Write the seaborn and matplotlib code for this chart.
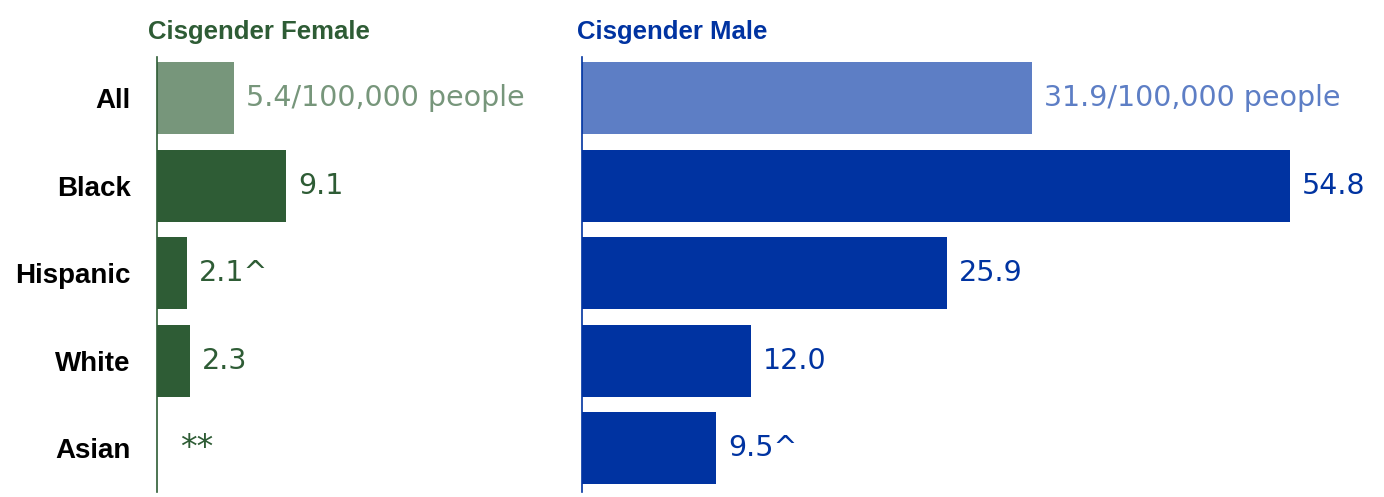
import matplotlib
matplotlib.use("Agg")
import matplotlib.pyplot as plt
import seaborn as sns
import pandas as pd

sns.set_theme(style="white")
plt.rcParams['font.family'] = ['Liberation Sans', 'DejaVu Sans']

# data
groups = ['All', 'Black', 'Hispanic', 'White', 'Asian']
female_rate = [5.4, 9.1, 2.1, 2.3, 0.0]
female_labels = ['5.4/100,000 people', '9.1', '2.1^', '2.3', '**']
male_rate = [31.9, 54.8, 25.9, 12.0, 9.5]
male_labels = ['31.9/100,000 people', '54.8', '25.9', '12.0', '9.5^']

GREEN, GREEN_LT = '#2e5c35', '#77967b'
BLUE, BLUE_LT = '#0033a1', '#5d7ec5'

fig = plt.figure(figsize=(13.84, 4.97), dpi=100)
W, H = 1384, 497
ax_f = fig.add_axes([157 / W, 1 - 492 / H, 380 / W, 435 / H])
ax_m = fig.add_axes([582 / W, 1 - 492 / H, 708 / W, 435 / H])

panels = [
    (ax_f, female_rate, female_labels, GREEN, GREEN_LT, 'Cisgender Female', 380 / 14.2, -0.65),
    (ax_m, male_rate, male_labels, BLUE, BLUE_LT, 'Cisgender Male', 708 / 14.1, -0.35),
]

for ax, vals, labs, dark, light, title, xmax, tx in panels:
    df = pd.DataFrame({'group': groups, 'rate': vals})
    sns.barplot(data=df, y='group', x='rate', hue='group', legend=False,
                palette=[light] + [dark] * 4, width=0.82, ax=ax,
                saturation=1, edgecolor='none')
    ax.set_xlim(0, xmax)
    ax.set_ylim(4.5, -0.47)
    for i, (v, t) in enumerate(zip(vals, labs)):
        x = min(v, xmax) + 0.85
        size = 20.5
        if v == 0:
            x, size = 1.6, 24
        ax.text(x, i, t, va='center', ha='left', fontsize=size,
                family='DejaVu Sans',
                color=light if i == 0 else dark, clip_on=False)
    for s in ['top', 'right', 'bottom']:
        ax.spines[s].set_visible(False)
    ax.spines['left'].set_color(dark)
    ax.spines['left'].set_linewidth(1.2)
    ax.set_xticks([])
    ax.set_xlabel('')
    ax.set_ylabel('')
    ax.text(tx, -0.62, title, transform=ax.transData,
            fontsize=18.5, fontweight='bold', color=dark, ha='left', va='bottom',
            clip_on=False)

ax_f.tick_params(axis='y', length=0, pad=19)
ax_f.set_yticks(range(len(groups)))
ax_f.set_yticklabels(groups, fontsize=20, fontweight='bold', color='black')
ax_m.set_yticks([])

fig.savefig('out.png', dpi=100)
